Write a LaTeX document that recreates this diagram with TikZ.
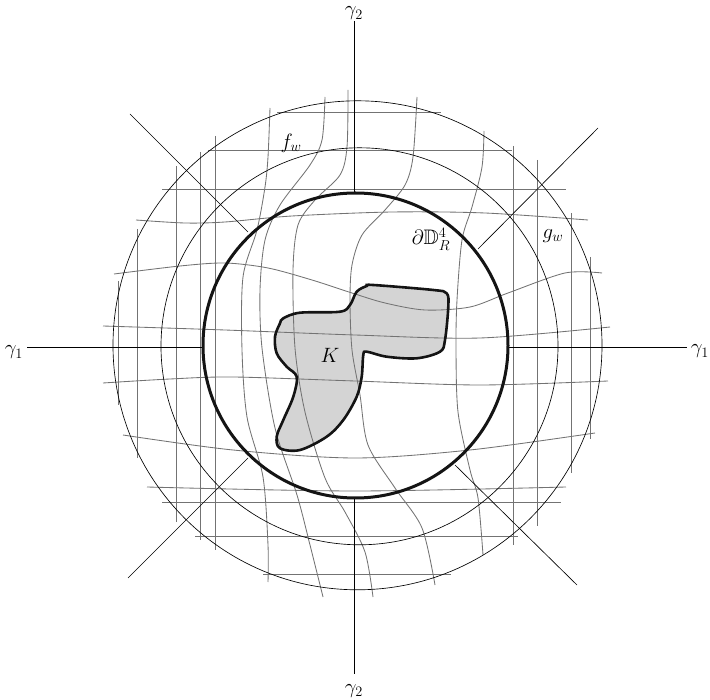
\documentclass[tikz,border=0pt]{standalone}
\usepackage{amssymb}
\begin{document}
\begin{tikzpicture}[x=1pt,y=-1pt,
  grayline/.style={draw=black!55, line width=0.85pt},
  thinblack/.style={draw=black, line width=0.65pt},
  thickcirc/.style={draw=black!92, line width=3pt},
  koutline/.style={draw=black!92, line width=2.6pt},
  lbl/.style={font=\fontsize{21}{25}\selectfont, inner sep=0pt}]
\useasboundingbox (0,0) rectangle (710,700);
% centres
\coordinate (Ct) at (355.5,345.5);
\coordinate (Cm) at (359.5,346.3);
\coordinate (Co) at (357.5,345.3);
\def\kpts{(283.3,318.3) (300,312.7) (340,311.7) (350,305) (356.7,291.7) (366.7,286) (373.3,285) (433.3,290) (446.7,293.3) (448.3,306.7) (445,340) (440,351.7) (416.7,358.3) (386.7,356.7) (366.7,351.7) (363.3,355) (361.7,376.7) (356.7,396.7) (343.3,420) (326.7,436.7) (300,450) (280,448.3) (276.7,436.7) (283.3,420) (293.3,396.7) (296.7,376.7) (286.7,366.7) (276.7,353.3) (275,336.7) (280,323.3)}
% K fill
\fill[black!17] plot[smooth cycle, tension=0.55] coordinates {\kpts};
% horizontal grey lines
\draw[grayline] (277,112) -- (441,112);
\draw[grayline] (208,150) -- (512,150);
\draw[grayline] (162,189) -- (566,189);
\draw[grayline] plot[smooth] coordinates {(136,220) (185,223) (225,222) (292,216) (392,212) (485,213) (588,220)};
\draw[grayline] plot[smooth] coordinates {(114,274) (180,266) (225,263) (268,268) (312,280) (352,293) (385,303) (425,310) (470,307) (508,293) (565,273) (602,273)};
\draw[grayline] plot[smooth] coordinates {(103,326) (225,330) (355,335) (480,338) (610,327)};
\draw[grayline] plot[smooth] coordinates {(103,383) (170,379) (233,377) (355,381) (480,385) (608,381)};
\draw[grayline] plot[smooth] coordinates {(123,435) (233,450) (355,458) (470,450) (595,433)};
\draw[grayline] plot[smooth] coordinates {(147,487) (355,491) (566,487)};
\draw[grayline] (162,502) -- (561,502);
\draw[grayline] (195,536) -- (518,536);
\draw[grayline] (263,574) -- (451,574);
% vertical grey lines
\draw[grayline] (118,281) -- (118,405);
\draw[grayline] (137,229) -- (137,458);
\draw[grayline] (176,166) -- (176,522);
\draw[grayline] (200,152) -- (200,540);
\draw[grayline] (215,136) -- (215,550);
\draw[grayline] (513,146) -- (513,545);
\draw[grayline] (537,160) -- (537,526);
\draw[grayline] (571,213) -- (571,473);
\draw[grayline] (590,257) -- (590,439);
\draw[grayline] plot[smooth] coordinates {(270,108) (268,157) (265,187) (257,230) (243,277) (242,350) (247,417) (263,477) (268,545) (268,582)};
\draw[grayline] plot[smooth] coordinates {(325,97) (322,140) (310,165) (280,205) (265,240) (260,290) (262,348) (275,428) (297,495) (310,545) (323,597)};
\draw[grayline] plot[smooth] coordinates {(348,90) (347,147) (340,175) (315,200) (298,225) (293,270) (295,348) (305,412) (325,478) (345,512) (365,552) (373,597)};
\draw[grayline] plot[smooth] coordinates {(417,97) (413,157) (405,185) (385,210) (362,235) (352,265) (350,300) (352,350) (360,395) (368,445) (395,488) (422,528) (435,585)};
\draw[grayline] plot[smooth] coordinates {(484,131) (482,167) (472,207) (462,240) (457,300) (456,348) (458,412) (470,470) (478,498) (483,555)};
% thin circles
\draw[thinblack] (Cm) circle[radius=198.5pt];
\draw[thinblack] (Co) circle[radius=244.5pt];
% axes
\node[lbl, anchor=base] (g2t) at (354,16) {$\gamma_2$};
\node[lbl, anchor=base] (g2b) at (354,693) {$\gamma_2$};
\node[lbl, anchor=base] (g1l) at (14,355) {$\gamma_1$};
\node[lbl, anchor=base] (g1r) at (700,354) {$\gamma_1$};
\coordinate (ytop) at (354,21);
\coordinate (thtop) at (354,193);
\coordinate (thbot) at (354,498);
\coordinate (ybot) at (354,674);
\coordinate (xl) at (27,347.5);
\coordinate (thl) at (203,347.5);
\coordinate (thr) at (508,347.5);
\coordinate (xr) at (687,347.5);
\draw[thinblack] (ytop) -- (thtop);
\draw[thinblack] (thbot) -- (ybot);
\draw[thinblack] (xl) -- (thl);
\draw[thinblack] (thr) -- (xr);
% diagonals
\draw[thinblack] (130,114) -- (248,232);
\draw[thinblack] (598,128) -- (478,249);
\draw[thinblack] (128,578) -- (248,458);
\draw[thinblack] (577,585) -- (455,465);
% thick circle
\draw[thickcirc] (Ct) circle[radius=152.5pt];
% K outline
\draw[koutline] plot[smooth cycle, tension=0.55] coordinates {\kpts};
% labels
\node[lbl] (K) at (330,355) {$K$};
\node[lbl] (fw) at (291,143) {$f_w$};
\node[lbl] (dD) at (431,239) {$\partial\mathbb{D}^4_R$};
\node[lbl] (gw) at (553,236) {$g_w$};
\end{tikzpicture}
\end{document}
